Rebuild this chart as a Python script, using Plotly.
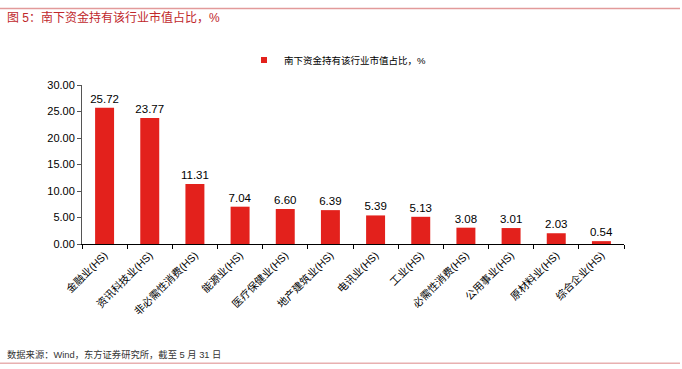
import plotly.graph_objects as go

categories = ["金融业(HS)", "资讯科技业(HS)", "非必需性消费(HS)", "能源业(HS)", "医疗保健业(HS)",
              "地产建筑业(HS)", "电讯业(HS)", "工业(HS)", "必需性消费(HS)", "公用事业(HS)",
              "原材料业(HS)", "综合企业(HS)"]
values = [25.72, 23.77, 11.31, 7.04, 6.60, 6.39, 5.39, 5.13, 3.08, 3.01, 2.03, 0.54]
series_name = "南下资金持有该行业市值占比，%"
title_text = "图 5：南下资金持有该行业市值占比，%"
source_text = "数据来源：Wind，东方证券研究所，截至 5 月 31 日"

FONT = "Arial, Liberation Sans, Noto Sans CJK SC, sans-serif"
H = 369.0
BAR_COLOR = "#E3211C"

fig = go.Figure()
fig.add_trace(go.Bar(
    x=categories, y=values, name=series_name, showlegend=False,
    marker=dict(color=BAR_COLOR, line=dict(width=0)),
    text=[f"{v:.2f}" for v in values], textposition="outside",
    textfont=dict(size=11.5, color="#000000", family=FONT),
    constraintext="none",
    cliponaxis=False,
))
# legend entry with a small square swatch
fig.add_trace(go.Scatter(
    x=[None], y=[None], mode="markers", name=series_name, showlegend=True,
    marker=dict(symbol="square", size=6, color=BAR_COLOR),
))

fig.update_layout(
    width=682, height=369,
    margin=dict(l=82, r=58, t=85, b=125, autoexpand=False),
    paper_bgcolor="white", plot_bgcolor="white",
    font=dict(family=FONT, size=11, color="#000000"),
    bargap=0.58,
    showlegend=True,
    legend=dict(orientation="h", x=(244 - 82) / 542, xanchor="left", xref="paper",
                y=1 - 60 / H, yanchor="middle", yref="container",
                font=dict(size=9.5, color="#000000"), itemwidth=30, bgcolor="rgba(0,0,0,0)"),
    xaxis=dict(type="category", showline=True, linecolor="#000000", linewidth=1,
               ticks="outside", tickson="boundaries", ticklen=4, tickcolor="#000000",
               tickangle=-45, tickfont=dict(size=10.5, color="#000000"), showgrid=False,
               automargin=False),
    yaxis=dict(range=[0, 30], dtick=5, tickformat=".2f", showline=True, linecolor="#555555",
               linewidth=1, ticks="outside", ticklen=4, tickcolor="#555555",
               tickfont=dict(size=11, color="#000000"), showgrid=False, zeroline=False,
               automargin=False),
)

fig.add_shape(type="line", xref="paper", yref="paper", x0=-82/542, x1=(680-82)/542,
              y0=1+(85-8)/160, y1=1+(85-8)/160, line=dict(color="#E29A9A", width=1.5))
fig.add_shape(type="line", xref="paper", yref="paper", x0=-82/542, x1=(680-82)/542,
              y0=-(364-244)/160, y1=-(364-244)/160, line=dict(color="#E8B0B0", width=1.5))

fig.add_annotation(text=title_text, xref="paper", yref="paper", x=-77/542, y=1+(85-17)/160,
                   xanchor="left", yanchor="middle", showarrow=False,
                   font=dict(size=12, color="#C0282C", family=FONT))
fig.add_annotation(text=source_text, xref="paper", yref="paper", x=-77/542, y=-(355-244)/160,
                   xanchor="left", yanchor="middle", showarrow=False,
                   font=dict(size=9.3, color="#333333", family=FONT))

fig.write_html("out.html", config={"displayModeBar": False},
               post_script="document.body.style.margin='0';")
